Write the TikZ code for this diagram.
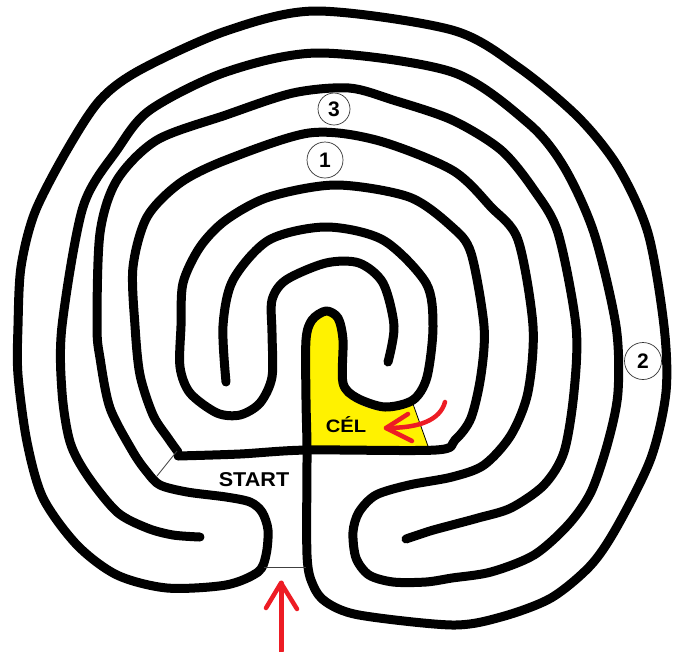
\documentclass[tikz,border=0pt]{standalone}
\usepackage{fontspec}
\setmainfont{Liberation Sans}
\definecolor{lyellow}{RGB}{255,242,0}
\definecolor{lred}{RGB}{237,28,36}
\tikzset{
  wall/.style={line width=9pt, line cap=round, line join=round},
  thinline/.style={line width=0.8pt, black!75},
  redline/.style={lred, line width=4.5pt, line cap=round, line join=round},
  numcirc/.style={circle, draw=black!80, line width=0.7pt, inner sep=0pt, font=\fontsize{21}{21}\selectfont\bfseries},
  lbl/.style={font=\fontsize{20}{20}\selectfont\bfseries, inner sep=0pt}
}
\begin{document}
\begin{tikzpicture}[x=1pt,y=-1pt]
\useasboundingbox (0,0) rectangle (677,651);
% goal area
\fill[lyellow] (310,448) -- (310,340) .. controls (311,322) and (318,314) .. (326,314)
  .. controls (335,316) and (339,326) .. (339,345) -- (339,385)
  .. controls (348,400) and (365,410) .. (385,411) -- (413,405) -- (429,448) -- cycle;
\draw[thinline, black] (413,404) -- (429,449);
% long wall 1
\draw[wall] plot[smooth, tension=0.5] coordinates {
 (406,539) (430,531) (452,525) (478,518) (511,508) (544,485) (564,452) (574,392) (576,326)
 (558,233) (534,190) (501,150) (452,120) (393,100) (349,88) (293,93) (226,115) (157,140)
 (117,180) (100,233) (97,326) (100,358) (110,408) (133,452) (147,472) (160,485) (187,492)
 (226,497) (250,502) (262,512) (268,530) (266,555) (258,572) (226,585) (167,588) (117,575)
 (77,545) (43,498) (27,442) (18,375) (18,326) (21,267) (35,212) (67,150) (100,100) (140,70)
 (226,31) (316,11) (452,30) (518,67) (578,117) (618,167) (648,233) (664,326) (666,392)
 (651,458) (618,525) (591,565) (551,598) (501,617) (452,625) (359,615) (326,602) (313,585)
 (307,555) (307,450) (306,400) (306,340) (312,320) (326,311) (338,318) (343,340) (343,383)
 (357,398) (385,407) (413,400) (427,377) (433,326) (426,283) (383,240) (326,227) (269,240)
 (233,280) (223,326) (226,382)};
% long wall 2, part a
\draw[wall] plot[smooth, tension=0.5] coordinates {
 (200,537) (173,535) (147,528) (117,512) (87,475) (70,442) (62,392) (62,326) (83,207)
 (117,150) (150,110) (226,72) (319,53) (452,72) (528,123) (564,167) (594,233) (616,326)
 (618,392) (608,442) (591,492) (568,525) (534,555) (491,572) (452,578) (426,582) (393,582)
 (369,575) (356,558) (353,532) (359,512) (376,495) (409,485) (452,477) (484,465) (511,435)
 (528,392) (533,326) (518,240) (491,207) (452,170) (376,140) (309,133) (226,160) (180,183)
 (147,217) (133,267) (135,326) (140,375) (153,415) (168,438) (178,452)};
% long wall 2, part b
\draw[wall] plot[smooth, tension=0.5] coordinates {
 (178,456) (240,454) (307,450) (436,450) (455,440) (471,418) (481,375) (484,326) (471,253)
 (452,227) (409,197) (336,185) (269,197) (226,220) (200,247) (183,283) (181,326) (180,367)
 (190,393) (217,413) (240,415) (260,403) (272,377) (272,333) (272,300) (286,280) (326,263)
 (359,263) (383,283) (394,326) (388,362)};
% thin gates
\coordinate (g1) at (177,451);
\coordinate (g2) at (157,476);
\coordinate (g3) at (264,567);
\coordinate (g4) at (306,567);
\draw[thinline] (g1) -- (g2);
\draw[thinline] (g3) -- (g4);
% numbers
\node[numcirc, minimum size=32pt] (n3) at (334,109) {3};
\node[numcirc, minimum size=36pt] (n1) at (325,160) {1};
\node[numcirc, minimum size=37pt] (n2) at (643,361) {2};
% labels
\node[lbl, xscale=1.08] (start) at (254,480) {START};
\node[lbl, xscale=1.12, font=\fontsize{18}{18}\selectfont\bfseries] (cel) at (346,425) {CÉL};
% red arrows
\coordinate (a1s) at (281,651);
\coordinate (a1t) at (281,583);
\coordinate (a1l) at (266,608);
\coordinate (a1r) at (297,609);
\draw[redline, line width=5pt] (a1s) -- (a1t);
\draw[redline] (a1l) -- (a1t) -- (a1r);
\coordinate (a2s) at (445,402);
\coordinate (a2t) at (386,428);
\coordinate (a2u) at (408,414);
\coordinate (a2d) at (412,441);
\draw[redline] (a2s) .. controls (440,420) and (420,428) .. (a2t);
\draw[redline] (a2u) -- (a2t) -- (a2d);
\end{tikzpicture}
\end{document}
